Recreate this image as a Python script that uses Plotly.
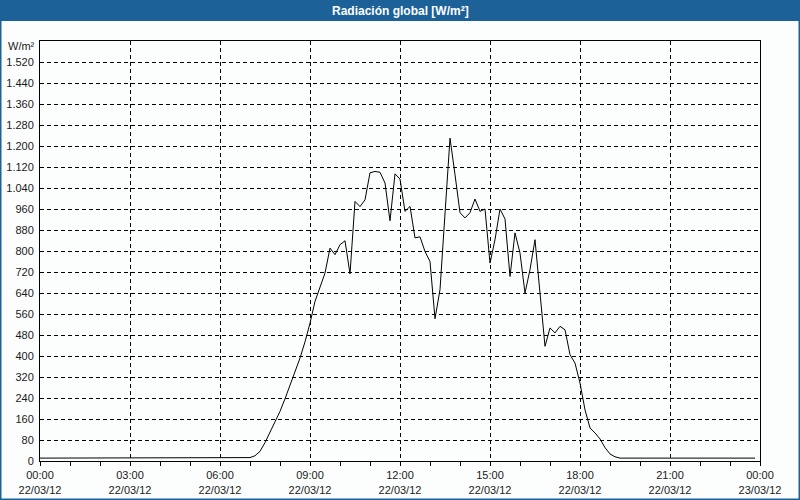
import pandas as pd
import plotly.graph_objects as go

# ---- data (10-minute samples, 22/03/12 00:00 .. 23:50) ----
START = "2012-03-22 00:00"
END = "2012-03-23 00:00"
STEP = "10min"
RADIATION = [
    11, 11, 11, 11, 11, 11,          # 00
    11, 11, 11, 11, 11, 11,          # 01
    11, 11, 11, 11, 11, 11,          # 02
    11, 11, 11, 11, 11, 11,          # 03
    11, 11, 11, 11, 11, 11,          # 04
    11, 11, 11, 11, 11, 11,          # 05
    11, 11, 11, 11, 11, 11,          # 06
    13, 20, 37, 70, 108, 150,        # 07
    189, 237, 287, 340, 392, 454,    # 08
    525, 608, 665, 716, 811, 786,    # 09
    824, 839, 713, 989, 969, 995,    # 10
    1098, 1103, 1100, 1059, 915, 1094,  # 11
    1074, 951, 970, 850, 854, 798,   # 12
    760, 542, 653, 946, 1230, 1091,  # 13
    946, 926, 946, 998, 951, 960,    # 14
    754, 843, 960, 922, 703, 869,    # 15
    792, 640, 729, 843, 641, 437,    # 16
    507, 488, 513, 500, 405, 373,    # 17
    297, 195, 126, 107, 84, 51,      # 18
    27, 16, 11, 11, 11, 11,          # 19
    11, 11, 11, 11, 11, 11,          # 20
    11, 11, 11, 11, 11, 11,          # 21
    11, 11, 11, 11, 11, 11,          # 22
    11, 11, 11, 11, 11, 11,          # 23
]
Y_TICKS = [0, 80, 160, 240, 320, 400, 480, 560, 640, 720, 800, 880, 960,
           1040, 1120, 1200, 1280, 1360, 1440, 1520]
Y_MAX = 1600
TITLE = "Radiación global [W/m²]"
UNIT = "W/m²"

times = pd.date_range(START, periods=len(RADIATION), freq=STEP)

BLUE = "#1c6198"
TXT = "#1a1a1a"
FONT = "Liberation Sans"

fig = go.Figure()
fig.add_trace(go.Scatter(x=times, y=RADIATION, mode="lines",
                         line=dict(color="black", width=1), hoverinfo="x+y",
                         showlegend=False))

W, H = 800, 500
L, R, T, B = 40, 40, 41, 39
pw, ph = W - L - R, H - T - B


def px(x):
    return (x - L) / pw


def py(y):
    return (H - B - y) / ph


shapes = [
    # title bar
    dict(type="rect", xref="paper", yref="paper", x0=px(0), x1=px(W),
         y0=py(21), y1=py(0), fillcolor=BLUE, line=dict(width=0), layer="above"),
    # window frame
    dict(type="rect", xref="paper", yref="paper", x0=px(0.75), x1=px(W - 0.75),
         y0=py(H - 0.75), y1=py(0.75), line=dict(color=BLUE, width=1.5),
         fillcolor="rgba(0,0,0,0)", layer="above"),
]

fig.update_layout(
    width=W, height=H,
    margin=dict(l=L, r=R, t=T, b=B, pad=0, autoexpand=False),
    paper_bgcolor="#fcfefe", plot_bgcolor="#fcfefe",
    separators=",.",
    font=dict(family=FONT, size=11, color=TXT),
    shapes=shapes,
    annotations=[
        dict(text="<b>" + TITLE + "</b>", xref="paper", yref="paper",
             x=0.5, y=py(10.5), xanchor="center", yanchor="middle",
             showarrow=False, font=dict(family=FONT, size=12, color="white")),
        dict(text=UNIT, xref="paper", yref="paper", x=px(37), y=py(46),
             xanchor="right", yanchor="middle", showarrow=False,
             font=dict(family=FONT, size=11, color=TXT)),
    ],
)

fig.update_xaxes(
    type="date", range=[START, END], automargin=False,
    dtick=3 * 3600 * 1000, tick0=START,
    tickformat="%H:%M<br>%d/%m/%y",
    showgrid=True, gridcolor="black", gridwidth=1, griddash="4px,3px",
    showline=True, linecolor="black", linewidth=1, mirror=True,
    ticks="outside", ticklen=4, tickcolor="black",
    minor=dict(dtick=3600 * 1000, ticks="outside", ticklen=4,
               tickcolor="black", showgrid=False),
    zeroline=False,
    tickfont=dict(family=FONT, size=11, color=TXT),
)
fig.update_yaxes(
    range=[0, Y_MAX], tickvals=Y_TICKS, tickformat=",d", automargin=False,
    showgrid=True, gridcolor="black", gridwidth=1, griddash="4px,3px",
    showline=True, linecolor="black", linewidth=1, mirror=True,
    ticks="", ticklabelstandoff=3, zeroline=False,
    tickfont=dict(family=FONT, size=11, color=TXT),
)

fig.write_html("out.html")
